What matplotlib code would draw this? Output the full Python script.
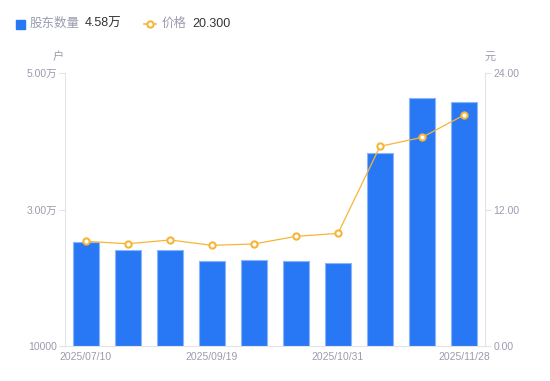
import matplotlib
matplotlib.use("Agg")
import matplotlib.pyplot as plt
from matplotlib.lines import Line2D
from matplotlib.patches import Rectangle

plt.rcParams['font.family'] = ['Liberation Sans', 'Noto Sans CJK SC', 'DejaVu Sans']

# data
dates = ["2025/07/10", "2025/08/01", "2025/08/20", "2025/09/19", "2025/09/30",
         "2025/10/10", "2025/10/20", "2025/10/31", "2025/11/14", "2025/11/28"]
holders = [25200, 24020, 24020, 22410, 22600, 22450, 22160, 38240, 46400, 45800]
price = [9.20, 8.99, 9.32, 8.85, 8.97, 9.64, 9.90, 17.55, 18.34, 20.30]
shown_ticks = [0, 3, 6, 9]
shown_labels = ["2025/07/10", "2025/09/19", "2025/10/31", "2025/11/28"]

BLUE = "#2878f5"
BLUE_EDGE = "#8ab6f9"
ORANGE = "#f7b538"
GREY_TEXT = "#9a9cad"
AXIS_GREY = "#e3e4e8"
DARK = "#333333"

fig = plt.figure(figsize=(5.5, 3.81), dpi=100)
ax = fig.add_axes([65 / 550, 35 / 381, 420 / 550, 273 / 381])

x = list(range(len(dates)))
ax.bar(x, holders, width=0.6, bottom=0, color=BLUE, edgecolor=BLUE_EDGE, linewidth=0.8, zorder=2)
ax.set_ylim(10000, 50000)
ax.set_xlim(-0.5, len(dates) - 0.5)
ax.set_yticks([10000, 30000, 50000])
ax.set_yticklabels(["10000", "3.00万", "5.00万"])
ax.set_xticks(shown_ticks)
ax.set_xticklabels(shown_labels)

ax2 = ax.twinx()
ax2.plot(x, price, color=ORANGE, linewidth=0.9, marker="o", markersize=4.5,
         markerfacecolor="white", markeredgecolor=ORANGE, markeredgewidth=1.5, zorder=3)
ax2.set_ylim(0, 24)
ax2.set_yticks([0, 12, 24])
ax2.set_yticklabels(["0.00", "12.00", "24.00"])

for a in (ax, ax2):
    a.spines["top"].set_visible(False)
    a.spines["left"].set_color(AXIS_GREY)
    a.spines["right"].set_color(AXIS_GREY)
    a.spines["bottom"].set_color(AXIS_GREY)
    a.tick_params(colors=GREY_TEXT, labelsize=7.5, length=4, width=0.8)
    a.tick_params(axis="y", color=AXIS_GREY, pad=2)
ax.tick_params(axis="x", length=0, pad=4)
ax.set_facecolor("none")
ax.spines["right"].set_visible(False)
ax2.spines["left"].set_visible(False)
ax2.spines["bottom"].set_visible(False)

# unit labels
fig.text(58 / 550, 1 - 57 / 381, "户", color=GREY_TEXT, fontsize=8, ha="center", va="center")
fig.text(490 / 550, 1 - 57 / 381, "元", color=GREY_TEXT, fontsize=8, ha="center", va="center")

# custom legend row
fig.patches.append(Rectangle((16 / 550, 1 - 29 / 381), 9 / 550, 9 / 381,
                             transform=fig.transFigure, color=BLUE, figure=fig))
fig.text(30 / 550, 1 - 24 / 381, "股东数量", color=GREY_TEXT, fontsize=9, va="center")
fig.text(85 / 550, 1 - 24 / 381, "4.58万", color=DARK, fontsize=9, va="center")
fig.lines.append(Line2D([144 / 550, 156 / 550], [1 - 24 / 381, 1 - 24 / 381],
                        transform=fig.transFigure, color=ORANGE, linewidth=1.2, figure=fig))
fig.lines.append(Line2D([150 / 550], [1 - 24 / 381], transform=fig.transFigure,
                        color=ORANGE, marker="o", markersize=4.5, markerfacecolor="white",
                        markeredgewidth=1.5, linestyle="none", figure=fig))
fig.text(162 / 550, 1 - 24 / 381, "价格", color=GREY_TEXT, fontsize=9, va="center")
fig.text(192 / 550, 1 - 24 / 381, "20.300", color=DARK, fontsize=9, va="center")

fig.savefig("out.png", dpi=100)
